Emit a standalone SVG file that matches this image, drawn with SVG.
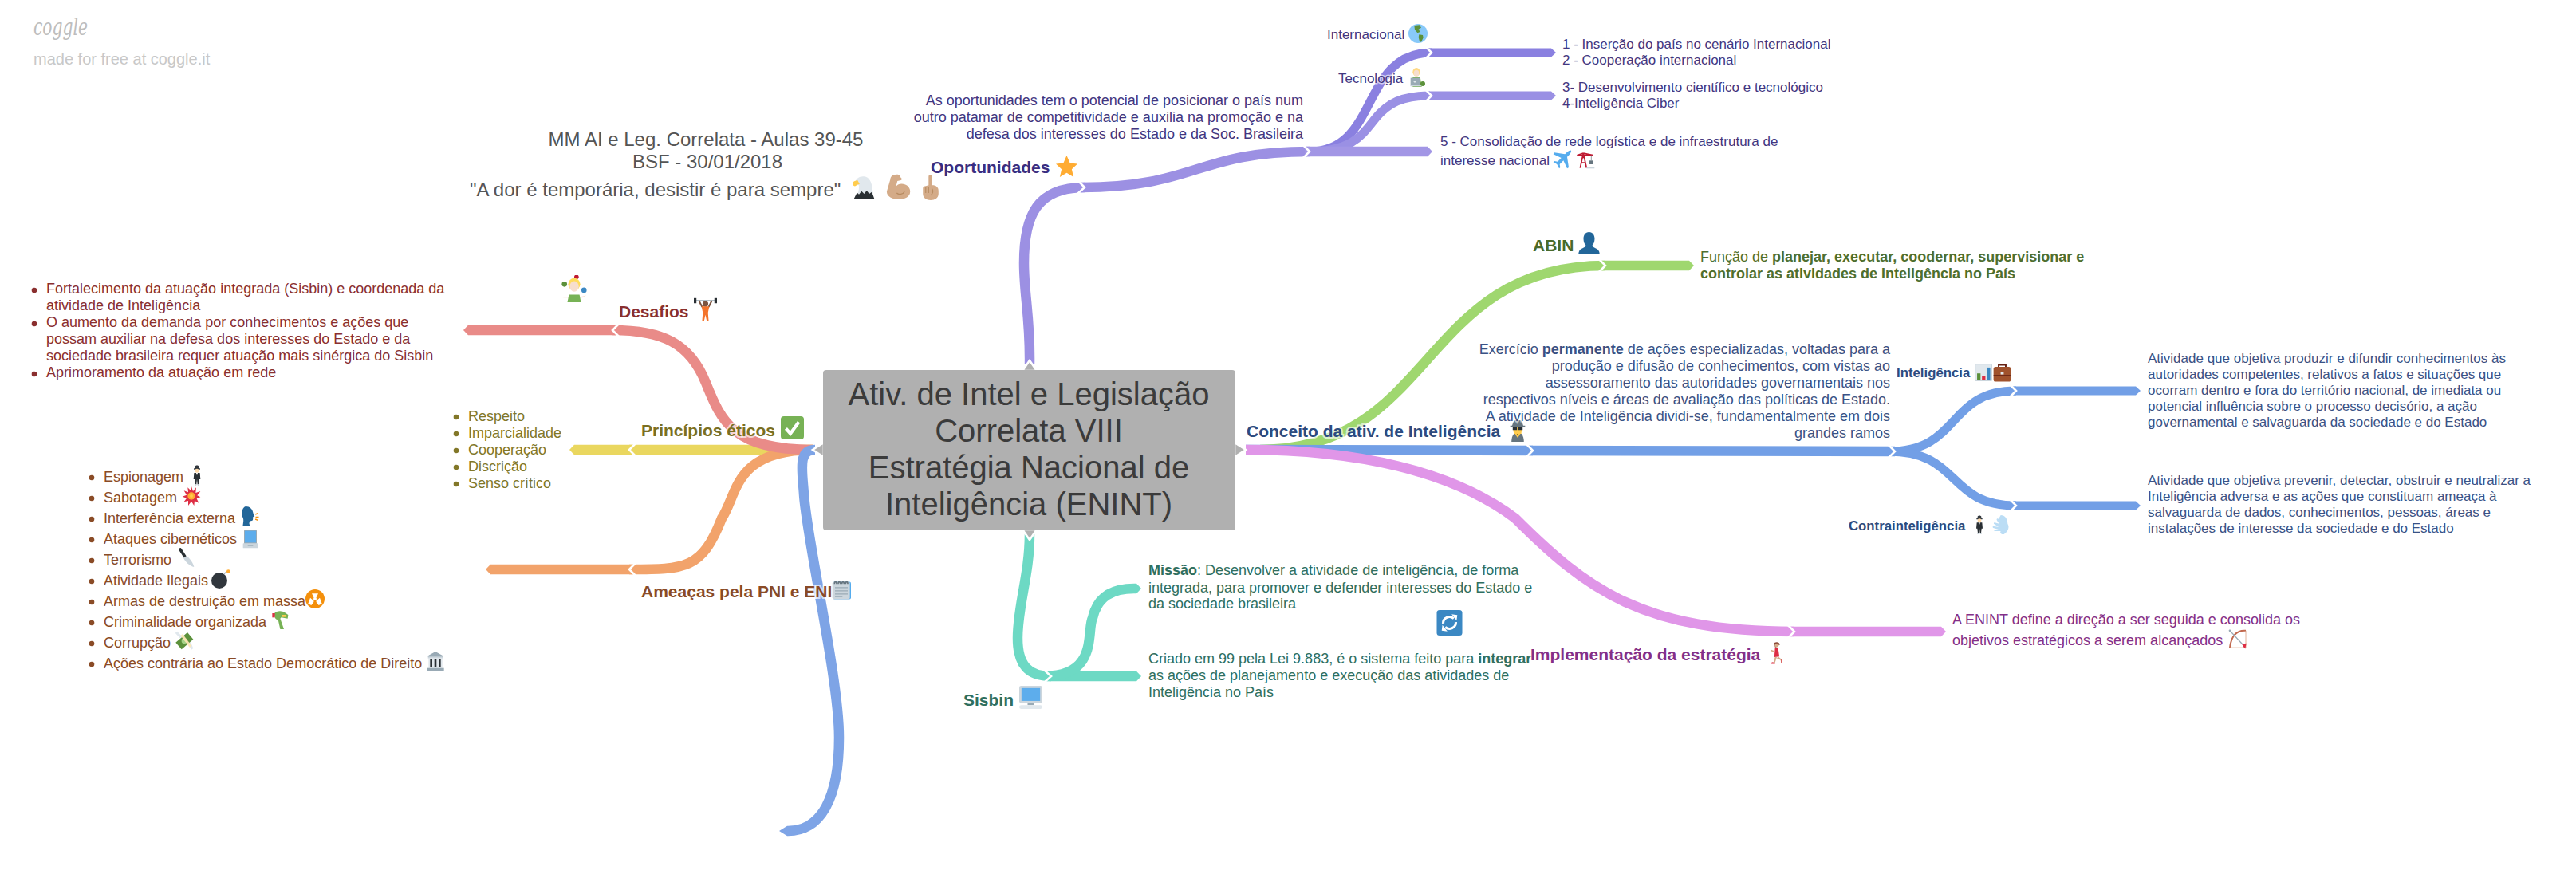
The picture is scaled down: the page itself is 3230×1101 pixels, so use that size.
<svg xmlns="http://www.w3.org/2000/svg" width="3230" height="1101" viewBox="0 0 3230 1101">
<style>
text{font-family:"Liberation Sans",Arial,sans-serif;font-size:18px}
.b{font-weight:700}
.lb{font-size:21px;font-weight:700;paint-order:stroke;stroke:#fff;stroke-opacity:.65;stroke-width:4px}
.sm{font-size:17px;paint-order:stroke;stroke:#fff;stroke-opacity:.6;stroke-width:3px}
.smb{font-size:16.8px;font-weight:700}
.e{text-anchor:end;paint-order:stroke;stroke:#fff;stroke-opacity:.6;stroke-width:3px}
.c{fill:none;stroke-linecap:butt}
.j{fill:none;stroke:#fff;stroke-width:2.6}
.w12{stroke-width:12.5}.w10{stroke-width:11}
.cred{stroke:#e98b88}.cyel{stroke:#ead75f}.cora{stroke:#f2a36b}.cblu{stroke:#7ea4e6}.cpur{stroke:#9c90e3}.cpul{stroke:#a296e5}.cpud{stroke:#8a80e0}.cpum{stroke:#9a90e4}.ctea{stroke:#6dd9c4}.cgre{stroke:#9fd76f}.cmag{stroke:#e096e8}.cbl2{stroke:#729fe6}
.tred{fill:#8a2f2f}.tyel{fill:#827728}.tora{fill:#8a4b26}.tpur{fill:#42367f}.ttea{fill:#2f6f60}.tgre{fill:#4f6f2e}.tmag{fill:#842f88}.tblu{fill:#3a5285}
.dred{fill:#8a2f2f}.dyel{fill:#827728}.dora{fill:#8a4b26}
</style>
<defs>
<marker id="m-red" markerUnits="userSpaceOnUse" markerWidth="10" markerHeight="14" refX="0" refY="7" orient="auto"><path d="M0 .7h3L9 7 3 13.3H0z" fill="#e98b88"/></marker>
<marker id="m-yel" markerUnits="userSpaceOnUse" markerWidth="10" markerHeight="14" refX="0" refY="7" orient="auto"><path d="M0 .7h3L9 7 3 13.3H0z" fill="#ead75f"/></marker>
<marker id="m-ora" markerUnits="userSpaceOnUse" markerWidth="10" markerHeight="14" refX="0" refY="7" orient="auto"><path d="M0 .7h3L9 7 3 13.3H0z" fill="#f2a36b"/></marker>
<marker id="m-blu" markerUnits="userSpaceOnUse" markerWidth="12" markerHeight="14" refX="0" refY="7" orient="auto"><path d="M0 .7h1L11 7 1 13.3H0z" fill="#7ea4e6"/></marker>
<marker id="m-pul" markerUnits="userSpaceOnUse" markerWidth="10" markerHeight="14" refX="0" refY="7" orient="auto"><path d="M0 .7h3L9 7 3 13.3H0z" fill="#a296e5"/></marker>
<marker id="m-pud" markerUnits="userSpaceOnUse" markerWidth="10" markerHeight="14" refX="0" refY="7" orient="auto"><path d="M0 1.5h3L9 7 3 12.5H0z" fill="#8a80e0"/></marker>
<marker id="m-pum" markerUnits="userSpaceOnUse" markerWidth="10" markerHeight="14" refX="0" refY="7" orient="auto"><path d="M0 1.5h3L9 7 3 12.5H0z" fill="#9a90e4"/></marker>
<marker id="m-tea" markerUnits="userSpaceOnUse" markerWidth="10" markerHeight="14" refX="0" refY="7" orient="auto"><path d="M0 .7h3L9 7 3 13.3H0z" fill="#6dd9c4"/></marker>
<marker id="m-gre" markerUnits="userSpaceOnUse" markerWidth="10" markerHeight="14" refX="0" refY="7" orient="auto"><path d="M0 .7h3L9 7 3 13.3H0z" fill="#9fd76f"/></marker>
<marker id="m-mag" markerUnits="userSpaceOnUse" markerWidth="10" markerHeight="14" refX="0" refY="7" orient="auto"><path d="M0 .7h3L9 7 3 13.3H0z" fill="#e096e8"/></marker>
<marker id="m-bl2" markerUnits="userSpaceOnUse" markerWidth="10" markerHeight="14" refX="0" refY="7" orient="auto"><path d="M0 1.5h3L9 7 3 12.5H0z" fill="#729fe6"/></marker>

<symbol id="e-star" viewBox="0 0 36 36"><path fill="#FFAC33" d="M18 0l5.5 12.5L36 14l-9.5 9L29.500 36 18 29 6.500 36 9.500 23 0 14l12.500-1.500z"/></symbol>
<symbol id="e-check" viewBox="0 0 36 36"><rect x="0" y="0" width="36" height="36" rx="5" fill="#77B255"/><path d="M8 19l7 8L28 9" fill="none" stroke="#fff" stroke-width="5"/></symbol>
<symbol id="e-globe" viewBox="0 0 36 36"><circle cx="18" cy="18" r="18" fill="#88C9F9"/><path fill="#5C913B" d="M11 3l10-1 3 5-5 3 3 5-5 2-5-6zM20 20l7 1 1 5-4 8-3-1-2-8z"/></symbol>
<symbol id="e-tech" viewBox="0 0 36 36"><ellipse cx="15" cy="8" rx="7" ry="8" fill="#FFD983"/><ellipse cx="15" cy="10" rx="5" ry="6" fill="#F7DECE"/><path fill="#77B255" d="M8 17h14l3 19H8z"/><rect x="4" y="19" width="17" height="15" fill="#99AAB5"/><rect x="4" y="32" width="21" height="3" fill="#CCD6DD"/><circle cx="12" cy="26" r="2" fill="#E1E8ED"/><circle cx="27" cy="30" r="4.500" fill="#5C913B"/></symbol>
<symbol id="e-plane" viewBox="0 0 36 36"><path fill="#55ACEE" d="M34 1c2 1-1 6-4 9l-3 3 3 20-3 2-7-15-7 7 1 6-2 2-4-8-7-4 2-2 6 1 7-7L1 8l2-3 20 3 3-3c3-3 7-5 8-4z"/></symbol>
<symbol id="e-crane" viewBox="0 0 36 36"><g fill="none" stroke="#BE1931" stroke-width="2.500"><path d="M8 34L14 6 20 34M10 24h8M12 14h4M2 10h30M14 6L2 10M14 6L32 10"/></g><rect x="24" y="20" width="9" height="7" fill="#66757F"/><path d="M29 10v10" stroke="#66757F"/><rect x="20" y="33" width="15" height="2" fill="#CCD6DD"/></symbol>
<symbol id="e-eagle" viewBox="0 0 36 36"><path fill="#E1E8ED" d="M4 12C4 4 12 0 18 1c8 1 12 9 13 20l1 7H8c2-5 2-10 2-13z"/><path fill="#FFCC4D" d="M0 12c0-3 4-5 8-5l3 6c-3 0-4 1-5 2-2 2-5 1-6-3z"/><path fill="#292F33" d="M2 36l5-10 3 3 4-5 4 4 4-5 4 5 4-3 4 11z"/></symbol>
<symbol id="e-muscle" viewBox="0 0 36 36"><path fill="#D4AB88" d="M13 1c-4 0-7 3-7 7L1 25c0 7 8 11 17 11 9 0 16-4 16-11 0-7-6-11-12-11-4 0-7 2-8 4l2-8 5-1c2-1 1-4-1-4l-1-3c-2-2-5-1-6-1z"/><path d="M15 27c3 3 9 2 11-2" fill="none" stroke="#B78B60" stroke-width="1.500"/></symbol>
<symbol id="e-finger" viewBox="0 0 36 36"><path fill="#D4AB88" d="M17 0c2 0 3 1 3 3v12c6 0 9 3 9 8v4c0 6-5 9-11 9S7 33 7 27v-8c0-2 2-3 4-3l4-1V3c0-2 1-3 2-3z"/><path d="M11 18v8M15 18v8M20 20c2 3 1 7-2 9" fill="none" stroke="#B78B60" stroke-width="1.200"/></symbol>
<symbol id="e-jug" viewBox="0 0 36 36"><circle cx="21" cy="2.500" r="3" fill="#BE1931"/><circle cx="5" cy="12" r="3.500" fill="#5C913B"/><circle cx="31" cy="20" r="3.500" fill="#3B88C3"/><ellipse cx="18" cy="12" rx="8" ry="8" fill="#FFDC5D"/><ellipse cx="18" cy="15" rx="6" ry="7" fill="#F7DECE"/><path fill="#F7DECE" d="M2 30l9-1 3 1H8zM34 27l-9 2-3 1h7z"/><path fill="#77B255" d="M11 26h14l2 10H9z"/></symbol>
<symbol id="e-lift" viewBox="0 0 36 36"><path stroke="#99AAB5" stroke-width="2" d="M3 5h30"/><rect x="0" y="1" width="4" height="8" fill="#292F33"/><rect x="32" y="1" width="4" height="8" fill="#292F33"/><path fill="none" stroke="#7C533E" stroke-width="2.500" d="M8 5l5 10M28 5l-5 10"/><circle cx="18" cy="10" r="4.500" fill="#7C533E"/><path fill="#F4742B" d="M12 14h12l-2 10 1 12h-3l-2-9-2 9h-3l1-12z"/></symbol>
<symbol id="e-spy" viewBox="0 0 36 36"><path fill="#31373D" d="M14.500 3c0-3 7-3 7 0v3h2v2h-11V6h2z"/><circle cx="18" cy="10" r="3.500" fill="#FFDBAC"/><path fill="#292F33" d="M13 14h10l1 11h-2l-1 9h-2l-1-9-1 9h-2l-1-9h-2z"/><path fill="#fff" d="M16.500 14h3L18 18z"/><path fill="#CCD6DD" d="M14 33.500h3v2.500h-3zM19 33.500h3v2.500h-3z"/></symbol>
<symbol id="e-boom" viewBox="0 0 36 36"><path fill="#DD2E44" d="M18 0l3 9 6-7-1 10 9-3-6 8 6 3-7 3 4 8-8-4-1 9-5-8-6 8v-9l-8 2 5-7-8-3 8-3-5-8 8 3-1-9 6 6z"/><circle cx="18" cy="18" r="7" fill="#FFAC33"/><circle cx="18" cy="18" r="3" fill="#FFCC4D"/></symbol>
<symbol id="e-speak" viewBox="0 0 36 36"><path fill="#226699" d="M12 0c7 0 12 5 13 11 0 2 3 6 3 8l-3 1v4c0 3-3 4-6 3l-1 5 1 4H6c1-7 2-11 0-15-2-4-3-8-1-13 1-5 4-8 7-8z"/><path fill="#F4900C" d="M29 14l5-2 1 2-5 2zM30 19h6v2h-6zM29 25l1-2 5 2-1 2z"/></symbol>
<symbol id="e-laptop" viewBox="0 0 36 36"><rect x="6" y="1" width="24" height="26" rx="1" fill="#99AAB5"/><rect x="7.500" y="2.500" width="21" height="22" fill="#5DADEC"/><rect x="4" y="26" width="28" height="9" rx="1" fill="#CCD6DD"/><rect x="13" y="29" width="10" height="2" fill="#99AAB5"/></symbol>
<symbol id="e-knife" viewBox="0 0 36 36"><path stroke="#292F33" stroke-width="5.500" stroke-linecap="round" d="M6 3l9 14"/><path fill="#CCD6DD" d="M12 19l6-4c6 5 12 13 14 21-8-2-16-9-20-17z"/></symbol>
<symbol id="e-bomb" viewBox="0 0 36 36"><circle cx="15" cy="21" r="15" fill="#31373D"/><path d="M24 9c2-3 4-5 7-5" fill="none" stroke="#AAB8C2" stroke-width="2"/><circle cx="32" cy="4" r="3.500" fill="#FFAC33"/></symbol>
<symbol id="e-rad" viewBox="0 0 36 36"><circle cx="18" cy="18" r="18" fill="#F4900C"/><circle cx="18" cy="18" r="3" fill="#fff"/><path fill="#fff" d="M12 5h12l-4 8h-4zM5 24l4-11 7 6-1 3-4 5zM31 24l-4-11-7 6 1 3 4 5z" transform="translate(0 3)"/></symbol>
<symbol id="e-gun" viewBox="0 0 36 36"><path fill="#77B255" d="M6 6c4-5 14-6 20-1l6 4-1 7-12-2-2 2 7 20h-7l-4-18c-4 0-7-2-7-12z"/><rect x="2" y="6" width="5" height="8" fill="#DD2E44"/><rect x="21" y="9" width="7" height="4" fill="#FFCC4D"/></symbol>
<symbol id="e-money" viewBox="0 0 36 36"><path fill="#E1E8ED" d="M1 4l4-3 9 10-4 3zM26 24l4-3 5 12-4 3z"/><path fill="#5C913B" d="M2 22L24 3l11 13-22 19z"/><circle cx="18" cy="19" r="5" fill="#A6D388"/><path fill="#FFE8B6" d="M11 9l4-3 17 22-4 3z" opacity=".9"/></symbol>
<symbol id="e-bank" viewBox="0 0 36 36"><path fill="#99AAB5" d="M18 0L32 8v2H4V8z"/><rect x="4" y="10" width="28" height="3" fill="#CCD6DD"/><rect x="5" y="13" width="26" height="18" fill="#E1E8ED"/><path fill="#292F33" d="M8 14h4v16H8zM16 14h4v16h-4zM24 14h4v16h-4z"/><rect x="2" y="31" width="32" height="5" fill="#99AAB5"/></symbol>
<symbol id="e-note" viewBox="0 0 36 36"><rect x="2" y="3" width="34" height="33" rx="3" fill="#55ACEE"/><rect x="1" y="3" width="33" height="33" rx="3" fill="#CCD6DD"/><path d="M6 14h24M6 20h24M6 26h24M6 31h14" stroke="#99AAB5" stroke-width="2"/><path d="M5 7c0-5 4-5 4 0M12 7c0-5 4-5 4 0M19 7c0-5 4-5 4 0M26 7c0-5 4-5 4 0" fill="none" stroke="#66757F" stroke-width="2.500"/></symbol>
<symbol id="e-comp" viewBox="0 0 36 36"><rect x="0" y="0" width="36" height="27" rx="3" fill="#CCD6DD"/><rect x="3.500" y="3.500" width="29" height="20" fill="#5DADEC"/><rect x="13" y="27" width="10" height="3" fill="#99AAB5"/><rect x="0" y="30" width="36" height="6" rx="3" fill="#E1E8ED"/></symbol>
<symbol id="e-sync" viewBox="0 0 36 36"><rect width="36" height="36" rx="4" fill="#3B88C3"/><path d="M9 19a9 9 0 0 1 15-7M27 17a9 9 0 0 1-15 7" fill="none" stroke="#fff" stroke-width="3.500"/><path fill="#fff" d="M21 6l8 1-1 8zM15 30l-8-1 1-8z"/></symbol>
<symbol id="e-run" viewBox="0 0 36 36"><path fill="#8A4B38" d="M14 2c4-2 8-1 9 3l-5 1c0 3-1 4-3 3z"/><circle cx="18" cy="6" r="3" fill="#D5AB88"/><path fill="#D5AB88" d="M13 17l-5-2v-2l6 2zM20 14l1 10h-2zM15 25h3l-3 9-3 1zM20 24l6 5 1 6-2 0-1-5-6-3z"/><path fill="#DD2E44" d="M15 10h5l2 14-8 1z"/><path fill="#DD2E44" d="M10 33l5 1v2h-6zM25 28h2v7h-2z"/></symbol>
<symbol id="e-bow" viewBox="0 0 36 36"><path d="M33 2C18 1 6 8 3 34" fill="none" stroke="#C1694F" stroke-width="3"/><path d="M33 2v32M3 34h30" fill="none" stroke="#D99E82" stroke-width="1.200"/><path d="M2 1l27 29" stroke="#99AAB5" stroke-width="2"/><path fill="#DD2E44" d="M26 27l8-1-2 10-4-4z"/><circle cx="3" cy="2" r="2" fill="#99AAB5"/></symbol>
<symbol id="e-bust" viewBox="0 0 36 36"><path fill="#226699" d="M18 0c6 0 9 5 9 11 0 5-2 9-4 11 0 3 9 4 11 9 1 2 1 5 1 5H1s0-3 1-5c2-5 11-6 11-9-2-2-4-6-4-11C9 5 12 0 18 0z"/></symbol>
<symbol id="e-det" viewBox="0 0 36 36"><path fill="#66757F" d="M11 4c2-4 12-4 14 0l2 6h3v3H6v-3h3z"/><rect x="11" y="12" width="14" height="8" fill="#FFCC4D"/><path fill="#292F33" d="M10 13h7v4h-7zM19 13h7v4h-7z"/><path fill="#FFCC4D" d="M12 19h12v5H12z"/><path fill="#66757F" d="M12 23h12c3 3 4 8 4 13H8c0-5 1-10 4-13z"/><path stroke="#FFCC4D" stroke-width="3" d="M15 23l3 4 3-4"/></symbol>
<symbol id="e-chart" viewBox="0 0 36 36"><rect width="36" height="36" rx="3" fill="#CCD6DD"/><rect x="2" y="2" width="32" height="32" fill="#E1E8ED"/><rect x="5" y="20" width="7" height="14" fill="#5C913B"/><rect x="15" y="26" width="7" height="8" fill="#DD2E44"/><rect x="25" y="8" width="7" height="26" fill="#3B88C3"/></symbol>
<symbol id="e-case" viewBox="0 0 36 36"><path fill="none" stroke="#662113" stroke-width="3" d="M11 8V3h14v5"/><rect x="1" y="7" width="34" height="29" rx="4" fill="#A0522D"/><rect x="1" y="23" width="34" height="2.500" fill="#662113"/><rect x="15" y="17" width="6" height="5" fill="#E1E8ED"/></symbol>
<symbol id="e-dash" viewBox="0 0 36 36"><path fill="#BBDDF5" d="M16 0c8 0 13 7 13 16 4 6 1 15-7 20-6 1-8-3-6-6H5c-2 0-2-3 0-3h7L2 24c-2-1-1-4 1-3l9 1-8-5c-2-1-1-4 1-3l8 2-4-6c-2-3 1-5 3-3z"/></symbol>
</defs>

<g id="connectors">
<path class="c cpur w12" d="M1291 457C1292 400 1284 370 1284 330C1284 270 1300 235 1360 235"/>
<path class="c cpur w12" d="M1356 235C1500 235 1500 190 1642 190"/>
<path class="c cpud w10" d="M1642 190C1730 190 1705 66 1795 66"/>
<path class="c cpud w10" d="M1790 66H1942" marker-end="url(#m-pud)"/>
<path class="c cpum w10" d="M1642 190C1740 190 1700 120 1793 120"/>
<path class="c cpum w10" d="M1788 120H1942" marker-end="url(#m-pum)"/>
<path class="c cpul w12" d="M1636 190H1787" marker-end="url(#m-pul)"/>
<path class="c cyel w12" d="M1020 564H789"/>
<path class="c cyel w12" d="M797 564H723" marker-end="url(#m-yel)"/>
<path class="c cora w12" d="M1020 564C920 564 925 620 905 650C880 714 860 714 789 714"/>
<path class="c cora w12" d="M797 714H618" marker-end="url(#m-ora)"/>
<path class="c cred w12" d="M1020 564C920 564 905 530 885 480C865 430 830 414 768 414"/>
<path class="c cred w12" d="M775 414H590" marker-end="url(#m-red)"/>
<path class="c cblu w12" d="M1022 564C1000 564 1006 590 1008 620C1012 680 1052 850 1052 925C1052 1000 1030 1042 988 1042" marker-end="url(#m-blu)"/>
<path class="c ctea w12" d="M1291 670C1291 720 1276 760 1276 800C1276 835 1290 848 1318 848"/>
<path class="c ctea w12" d="M1310 848H1422" marker-end="url(#m-tea)"/>
<path class="c ctea w12" d="M1310 848C1378 848 1362 790 1370 775C1376 748 1395 738 1422 738" marker-end="url(#m-tea)"/>
<path class="c cgre w12" d="M1580 564C1800 564 1780 333 2013 333"/>
<path class="c cgre w12" d="M2006 333H2115" marker-end="url(#m-gre)"/>
<path class="c cbl2 w12" d="M1562 564L1922 565"/>
<path class="c cbl2 w12" d="M1915 565L2376 566"/>
<path class="c cbl2 w10" d="M2368 566C2460 566 2440 490 2528 490"/>
<path class="c cbl2 w10" d="M2521 490H2675" marker-end="url(#m-bl2)"/>
<path class="c cbl2 w10" d="M2368 566C2460 566 2440 634 2528 634"/>
<path class="c cbl2 w10" d="M2521 634H2675" marker-end="url(#m-bl2)"/>
<path class="c cmag w12" d="M1562 564C1700 564 1820 590 1900 650C1990 740 2060 792 2250 792"/>
<path class="c cmag w12" d="M2243 792H2431" marker-end="url(#m-mag)"/>
<g id="joints">
<path class="j" d="M1351 226L1360 235 1351 243"/>
<path class="j" d="M1634 182L1642 190 1634 198"/>
<path class="j" d="M1787 58L1795 66 1787 74"/>
<path class="j" d="M1787 112L1795 120 1787 128"/>
<path class="j" d="M797 556L789 564 797 572"/>
<path class="j" d="M797 706L789 714 797 722"/>
<path class="j" d="M776 406L768 414 776 422"/>
<path class="j" d="M1309 840L1318 848 1309 856"/>
<path class="j" d="M2005 325L2013 333 2005 341"/>
<path class="j" d="M1914 557L1922 565 1914 573"/>
<path class="j" d="M2368 558L2376 566 2368 574"/>
<path class="j" d="M2520 482L2528 490 2520 498"/>
<path class="j" d="M2520 626L2528 634 2520 642"/>
<path class="j" d="M2242 784L2250 792 2242 800"/>
</g>
</g>

<g id="node-center">
<path fill="#b0b0b0" stroke="#fff" stroke-width="2.600" d="M1282 465L1291 452 1300 465zM1282 664L1291 677 1300 664zM1033 555L1019 564 1033 573zM1548 555L1562 564 1548 573z"/>
<rect x="1032" y="464" width="517" height="201" rx="4" fill="#b0b0b0"/>
<g fill="#3b3b3b" text-anchor="middle">
<text x="1290" y="508" style="font-size:40px">Ativ. de Intel e Legislação</text>
<text x="1290" y="554" style="font-size:40px">Correlata VIII</text>
<text x="1290" y="600" style="font-size:40px">Estratégia Nacional de</text>
<text x="1290" y="646" style="font-size:40px">Inteligência (ENINT)</text>
</g>
</g>

<g id="watermark">
<text x="42" y="44" fill="#bdbdbd" style="font-size:30px;font-family:'DejaVu Serif',serif;font-style:italic" textLength="68" lengthAdjust="spacingAndGlyphs">coggle</text>
<text x="42" y="81" fill="#c8c8c8" style="font-size:20px">made for free at coggle.it</text>
</g>

<g id="node-title" fill="#555" text-anchor="middle">
<text x="885" y="183" style="font-size:24px">MM AI e Leg. Correlata - Aulas 39-45</text>
<text x="887" y="211" style="font-size:24px">BSF - 30/01/2018</text>
<text x="589" y="246" style="font-size:24px;text-anchor:start">"A dor é temporária, desistir é para sempre"</text>
<use href="#e-eagle" x="1069" y="220" width="29" height="30"/>
<use href="#e-muscle" x="1111" y="218" width="32" height="32"/>
<use href="#e-finger" x="1151" y="219" width="32" height="32"/>
</g>

<g id="node-oportunidades">
<text class="lb" x="1167" y="217" style="fill:#3a2d80">Oportunidades</text>
<use href="#e-star" x="1323" y="195" width="29" height="27"/>
<g class="tpur">
<text class="e" x="1634" y="132">As oportunidades tem o potencial de posicionar o país num</text>
<text class="e" x="1634" y="153">outro patamar de competitividade e auxilia na promoção e na</text>
<text class="e" x="1634" y="174">defesa dos interesses do Estado e da Soc. Brasileira</text>
</g>
</g>
<g id="node-internacional" class="tpur">
<text class="sm" x="1664" y="49">Internacional</text>
<use href="#e-globe" x="1766" y="30" width="24" height="24"/>
<text class="sm" x="1959" y="61">1 - Inserção do país no cenário Internacional</text>
<text class="sm" x="1959" y="81">2 - Cooperação internacional</text>
</g>
<g id="node-tecnologia" class="tpur">
<text class="sm" x="1678" y="104">Tecnologia</text>
<use href="#e-tech" x="1766" y="85" width="24" height="24"/>
<text class="sm" x="1959" y="115">3- Desenvolvimento científico e tecnológico</text>
<text class="sm" x="1959" y="135">4-Inteligência Ciber</text>
</g>
<g id="node-logistica" class="tpur">
<text class="sm" x="1806" y="183">5 - Consolidação de rede logística e de infraestrutura de</text>
<text class="sm" x="1806" y="207">interesse nacional</text>
<use href="#e-plane" x="1947" y="188" width="24" height="24"/>
<use href="#e-crane" x="1976" y="188" width="24" height="24"/>
</g>

<g id="node-desafios">
<use href="#e-jug" x="703" y="345" width="34" height="34"/>
<text class="lb tred" x="776" y="398">Desafios</text>
<use href="#e-lift" x="870" y="373" width="29" height="29"/>
<g class="tred">
<circle class="dred" cx="43" cy="364" r="3.300"/>
<text x="58" y="368">Fortalecimento da atuação integrada (Sisbin) e coordenada da</text>
<text x="58" y="389">atividade de Inteligência</text>
<circle class="dred" cx="43" cy="406" r="3.300"/>
<text x="58" y="410">O aumento da demanda por conhecimentos e ações que</text>
<text x="58" y="431">possam auxiliar na defesa dos interesses do Estado e da</text>
<text x="58" y="452">sociedade brasileira requer atuação mais sinérgica do Sisbin</text>
<circle class="dred" cx="43" cy="469" r="3.300"/>
<text x="58" y="473">Aprimoramento da atuação em rede</text>
</g>
</g>

<g id="node-principios">
<text class="lb" x="804" y="547" style="fill:#7a6f22">Princípios éticos</text>
<use href="#e-check" x="979" y="522" width="29" height="29"/>
<g class="tyel">
<circle class="dyel" cx="572" cy="523" r="3.300"/><text x="587" y="528">Respeito</text>
<circle class="dyel" cx="572" cy="544" r="3.300"/><text x="587" y="549">Imparcialidade</text>
<circle class="dyel" cx="572" cy="565" r="3.300"/><text x="587" y="570">Cooperação</text>
<circle class="dyel" cx="572" cy="586" r="3.300"/><text x="587" y="591">Discrição</text>
<circle class="dyel" cx="572" cy="607" r="3.300"/><text x="587" y="612">Senso crítico</text>
</g>
</g>

<g id="node-ameacas">
<text class="lb tora" x="804" y="749">Ameaças pela PNI e ENI</text>
<use href="#e-note" x="1043" y="725" width="24" height="29"/>
<g class="tora">
<circle class="dora" cx="115" cy="599" r="3.300"/><text x="130" y="604">Espionagem</text>
<use href="#e-spy" x="233" y="583" width="28" height="26"/>
<circle class="dora" cx="115" cy="625" r="3.300"/><text x="130" y="630">Sabotagem</text>
<use href="#e-boom" x="228" y="610" width="24" height="24"/>
<circle class="dora" cx="115" cy="651" r="3.300"/><text x="130" y="656">Interferência externa</text>
<use href="#e-speak" x="300" y="635" width="25" height="24"/>
<circle class="dora" cx="115" cy="677" r="3.300"/><text x="130" y="682">Ataques cibernéticos</text>
<use href="#e-laptop" x="302" y="664" width="24" height="24"/>
<circle class="dora" cx="115" cy="703" r="3.300"/><text x="130" y="708">Terrorismo</text>
<use href="#e-knife" x="222" y="687" width="24" height="24"/>
<circle class="dora" cx="115" cy="729" r="3.300"/><text x="130" y="734">Atividade Ilegais</text>
<use href="#e-bomb" x="265" y="714" width="24" height="24"/>
<circle class="dora" cx="115" cy="755" r="3.300"/><text x="130" y="760">Armas de destruição em massa</text>
<use href="#e-rad" x="383" y="739" width="24" height="24"/>
<circle class="dora" cx="115" cy="781" r="3.300"/><text x="130" y="786">Criminalidade organizada</text>
<use href="#e-gun" x="340" y="765" width="24" height="24"/>
<circle class="dora" cx="115" cy="807" r="3.300"/><text x="130" y="812">Corrupção</text>
<use href="#e-money" x="219" y="791" width="24" height="24"/>
<circle class="dora" cx="115" cy="833" r="3.300"/><text x="130" y="838">Ações contrária ao Estado Democrático de Direito</text>
<use href="#e-bank" x="534" y="817" width="24" height="24"/>
</g>
</g>

<g id="node-sisbin">
<text class="lb ttea" x="1208" y="885">Sisbin</text>
<use href="#e-comp" x="1278" y="860" width="29" height="29"/>
<g class="ttea">
<text x="1440" y="721"><tspan class="b">Missão</tspan>: Desenvolver a atividade de inteligência, de forma</text>
<text x="1440" y="743">integrada, para promover e defender interesses do Estado e</text>
<text x="1440" y="763">da sociedade brasileira</text>
<text x="1440" y="832">Criado em 99 pela Lei 9.883, é o sistema feito para <tspan class="b">integrar</tspan></text>
<text x="1440" y="853">as ações de planejamento e execução das atividades de</text>
<text x="1440" y="874">Inteligência no País</text>
</g>
<use href="#e-sync" x="1801" y="765" width="33" height="32"/>
</g>

<g id="node-implementacao">
<text class="lb tmag" x="1919" y="828">Implementação da estratégia</text>
<use href="#e-run" x="2214" y="804" width="28" height="29"/>
<g class="tmag">
<text x="2448" y="783">A ENINT define a direção a ser seguida e consolida os</text>
<text x="2448" y="809">objetivos estratégicos a serem alcançados</text>
</g>
<use href="#e-bow" x="2794" y="789" width="24" height="25"/>
</g>

<g id="node-abin">
<text class="lb" x="1922" y="315" style="fill:#4a6a2a">ABIN</text>
<use href="#e-bust" x="1978" y="291" width="29" height="28"/>
<g class="tgre">
<text x="2132" y="328">Função de <tspan class="b">planejar, executar, coodernar, supervisionar e</tspan></text>
<text class="b" x="2132" y="349">controlar as atividades de Inteligência no País</text>
</g>
</g>

<g id="node-conceito">
<use href="#e-det" x="1889" y="526" width="28" height="28"/>
<g class="tblu">
<text class="e" x="2370" y="444">Exercício <tspan class="b">permanente</tspan> de ações especializadas, voltadas para a</text>
<text class="e" x="2370" y="465">produção e difusão de conhecimentos, com vistas ao</text>
<text class="e" x="2370" y="486">assessoramento das autoridades governamentais nos</text>
<text class="e" x="2370" y="507">respectivos níveis e áreas de avaliação das políticas de Estado.</text>
<text class="e" x="2370" y="528">A atividade de Inteligência dividi-se, fundamentalmente em dois</text>
<text class="e" x="2370" y="549">grandes ramos</text>
</g>
<text class="lb" x="1563" y="548" style="fill:#2c4b80">Conceito da ativ. de Inteligência</text>
</g>

<g id="node-inteligencia" class="tblu">
<text class="smb" x="2378" y="473" style="fill:#2c4b80">Inteligência</text>
<use href="#e-chart" x="2476" y="455" width="22" height="24"/>
<use href="#e-case" x="2499" y="455" width="23" height="24"/>
<text class="sm" x="2693" y="455">Atividade que objetiva produzir e difundir conhecimentos às</text>
<text class="sm" x="2693" y="475">autoridades competentes, relativos a fatos e situações que</text>
<text class="sm" x="2693" y="495">ocorram dentro e fora do território nacional, de imediata ou</text>
<text class="sm" x="2693" y="515">potencial influência sobre o processo decisório, a ação</text>
<text class="sm" x="2693" y="535">governamental e salvaguarda da sociedade e do Estado</text>
</g>

<g id="node-contrainteligencia" class="tblu">
<text class="smb" x="2318" y="665" style="fill:#2c4b80">Contrainteligência</text>
<use href="#e-spy" x="2470" y="646" width="24" height="24"/>
<use href="#e-dash" x="2498" y="646" width="24" height="24"/>
<text class="sm" x="2693" y="608">Atividade que objetiva prevenir, detectar, obstruir e neutralizar a</text>
<text class="sm" x="2693" y="628">Inteligência adversa e as ações que constituam ameaça à</text>
<text class="sm" x="2693" y="648">salvaguarda de dados, conhecimentos, pessoas, áreas e</text>
<text class="sm" x="2693" y="668">instalações de interesse da sociedade e do Estado</text>
</g>
</svg>
